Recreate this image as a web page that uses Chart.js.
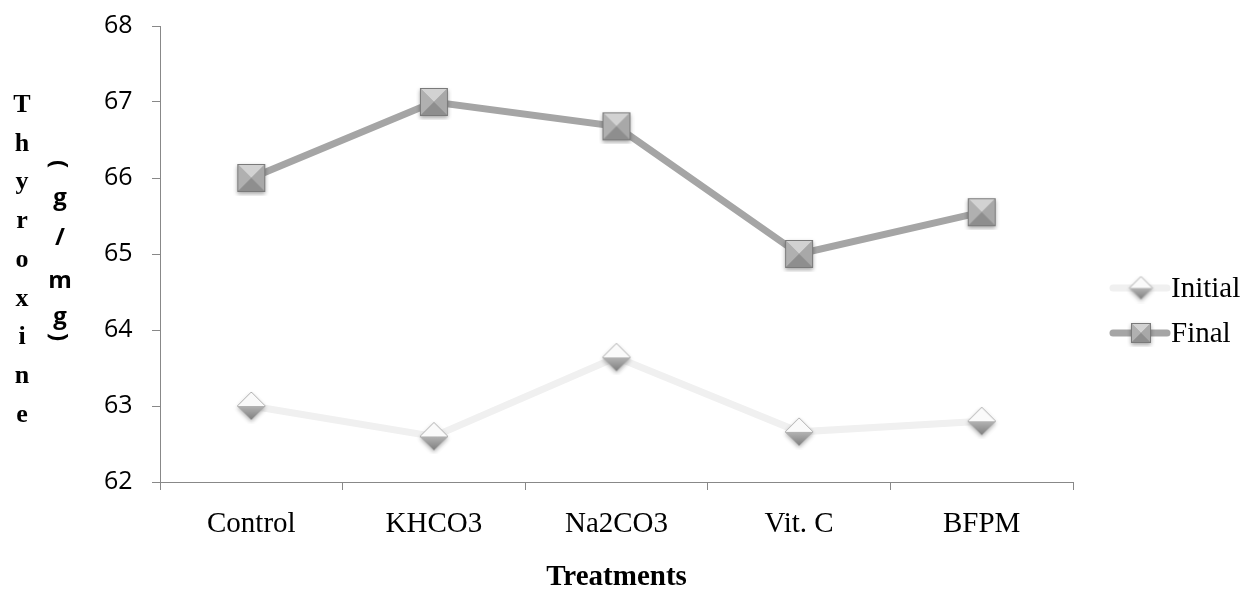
<!DOCTYPE html>
<html>
<head>
<meta charset="utf-8">
<script src="https://cdn.jsdelivr.net/npm/chart.js@4/dist/chart.umd.min.js"></script>
<style>
  body { margin: 0; background: #fff; }
  .wrap { position: relative; width: 1246px; height: 592px; }
  .ch { position: absolute; font-weight: bold; color: #000; width: 30px; text-align: center; line-height: 1; }
  .serif { font-family: 'Liberation Serif', serif; font-size: 26px; }
  .sans { font-family: 'Open Sans', sans-serif; font-size: 24px; }
  .rot { transform: rotate(90deg); }
</style>
</head>
<body>
<div class="wrap">
  <canvas id="chart" width="1246" height="592"></canvas>
  <div id="ytitle"></div>
</div>
<script>
const categories = ['Control', 'KHCO3', 'Na2CO3', 'Vit. C', 'BFPM'];
const initialValues = [63.0, 62.6, 63.64, 62.66, 62.8];
const finalValues = [66.0, 67.0, 66.68, 65.0, 65.55];
const yTicks = [62, 63, 64, 65, 66, 67, 68];
const titleWord = 'Thyroxine';
const unitChars = ['(', 'g', '/', 'm', 'g', ')'];

// vertical stacked axis title, one letter per row
const unitRows = [165, 197, 237, 280, 316, 338];
let titleHtml = titleWord
  .split('')
  .map((c, i) => `<div class="ch serif" style="left:7px;top:${104 + i * 38.7 - 13}px">${c}</div>`)
  .join('');
titleHtml += unitChars
  .map((c, i) => {
    const rot = c === '(' || c === ')' ? ' rot' : '';
    return `<div class="ch sans${rot}" style="left:45px;top:${unitRows[i] - 13}px">${c}</div>`;
  })
  .join('');
document.getElementById('ytitle').innerHTML = titleHtml;

function makeSquare(size) {
  const pad = 4;
  const c = document.createElement('canvas');
  c.width = size + pad * 2;
  c.height = size + pad * 2;
  const g = c.getContext('2d');
  g.shadowColor = 'rgba(0,0,0,0.35)';
  g.shadowBlur = 4;
  g.shadowOffsetY = 2;
  g.fillStyle = '#999';
  g.fillRect(pad, pad, size, size);
  g.shadowColor = 'transparent';
  const x0 = pad, y0 = pad, x1 = pad + size, y1 = pad + size;
  const cx = pad + size / 2, cy = pad + size / 2;
  const tri = (pts, col) => {
    g.beginPath();
    g.moveTo(pts[0], pts[1]);
    g.lineTo(pts[2], pts[3]);
    g.lineTo(pts[4], pts[5]);
    g.closePath();
    g.fillStyle = col;
    g.fill();
  };
  tri([x0, y0, x1, y0, cx, cy], '#d2d2d2');
  tri([x0, y0, x0, y1, cx, cy], '#b0b0b0');
  tri([x1, y0, x1, y1, cx, cy], '#a8a8a8');
  tri([x0, y1, x1, y1, cx, cy], '#8e8e8e');
  g.strokeStyle = '#7a7a7a';
  g.lineWidth = 1;
  g.strokeRect(x0 + 0.5, y0 + 0.5, size - 1, size - 1);
  return c;
}

function makeDiamond(size) {
  const pad = 4;
  const c = document.createElement('canvas');
  c.width = size + pad * 2;
  c.height = size + pad * 2;
  const g = c.getContext('2d');
  const cx = pad + size / 2, cy = pad + size / 2, r = size / 2;
  g.shadowColor = 'rgba(0,0,0,0.3)';
  g.shadowBlur = 4;
  g.shadowOffsetY = 2;
  g.beginPath();
  g.moveTo(cx, cy - r);
  g.lineTo(cx + r, cy);
  g.lineTo(cx, cy + r);
  g.lineTo(cx - r, cy);
  g.closePath();
  g.fillStyle = '#fafafa';
  g.fill();
  g.shadowColor = 'transparent';
  const grad = g.createLinearGradient(0, cy, 0, cy + r);
  grad.addColorStop(0, '#b4b4b4');
  grad.addColorStop(1, '#7e7e7e');
  g.beginPath();
  g.moveTo(cx - r, cy);
  g.lineTo(cx + r, cy);
  g.lineTo(cx, cy + r);
  g.closePath();
  g.fillStyle = grad;
  g.fill();
  g.beginPath();
  g.moveTo(cx, cy - r);
  g.lineTo(cx + r, cy);
  g.lineTo(cx, cy + r);
  g.lineTo(cx - r, cy);
  g.closePath();
  g.strokeStyle = '#b0b0b0';
  g.lineWidth = 1;
  g.stroke();
  return c;
}

const squareImg = makeSquare(28);
const diamondImg = makeDiamond(28);
const squareSmall = makeSquare(20);
const diamondSmall = makeDiamond(23);

const legendPlugin = {
  id: 'sideLegend',
  afterDraw(chart) {
    const ctx = chart.ctx;
    const items = [
      { label: 'Initial', color: '#f0f0f0', img: diamondSmall, y: 288 },
      { label: 'Final', color: '#a5a5a5', img: squareSmall, y: 333 },
    ];
    ctx.save();
    items.forEach((it) => {
      ctx.strokeStyle = it.color;
      ctx.lineWidth = 7;
      ctx.lineCap = 'round';
      ctx.beginPath();
      ctx.moveTo(1113, it.y);
      ctx.lineTo(1167, it.y);
      ctx.stroke();
      ctx.drawImage(it.img, 1141 - it.img.width / 2, it.y - it.img.height / 2);
      ctx.fillStyle = '#000';
      ctx.font = '29px "Liberation Serif", serif';
      ctx.textBaseline = 'middle';
      ctx.textAlign = 'left';
      ctx.fillText(it.label, 1171, it.y + 1);
    });
    ctx.restore();
  },
};

const config = {
  type: 'line',
  data: {
    labels: categories,
    datasets: [
      {
        label: 'Initial',
        data: initialValues,
        borderColor: '#f0f0f0',
        borderWidth: 7,
        pointStyle: diamondImg,
        tension: 0,
      },
      {
        label: 'Final',
        data: finalValues,
        borderColor: '#a5a5a5',
        borderWidth: 7,
        pointStyle: squareImg,
        tension: 0,
      },
    ],
  },
  options: {
    responsive: false,
    animation: false,
    layout: { padding: { left: 104, right: 173, top: 19, bottom: 0 } },
    plugins: {
      legend: { display: false },
      tooltip: { enabled: false },
    },
    scales: {
      x: {
        offset: true,
        grid: { offset: true, drawOnChartArea: false, tickLength: 8, color: '#888' },
        border: { color: '#888', width: 1 },
        ticks: { color: '#000', padding: 17, font: { family: 'Liberation Serif', size: 29 } },
        title: {
          display: true,
          text: 'Treatments',
          color: '#000',
          padding: { top: 0, bottom: 0 },
          font: { family: 'Liberation Serif', size: 29, weight: 'bold', lineHeight: 1 },
        },
        afterFit: (scale) => { scale.height = 110; },
      },
      y: {
        min: 62,
        max: 68,
        afterBuildTicks: (scale) => { scale.ticks = yTicks.map((v) => ({ value: v })); },
        grid: { drawOnChartArea: false, tickLength: 8, color: '#888' },
        border: { color: '#888', width: 1 },
        ticks: { color: '#000', padding: 11, crossAlign: 'far', font: { family: 'Open Sans', size: 25 } },
        afterFit: (scale) => { scale.width = 56; },
      },
    },
  },
  plugins: [legendPlugin],
};

new Chart(document.getElementById('chart'), config);
</script>
</body>
</html>
